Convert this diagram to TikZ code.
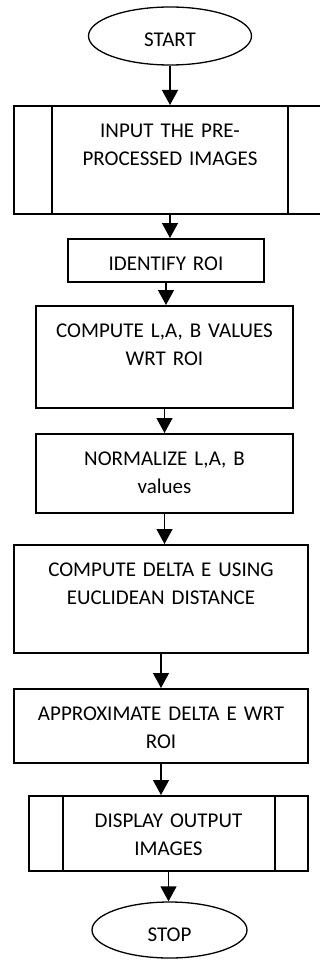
\documentclass[tikz,border=0pt]{standalone}
\usepackage{fontspec}
\setmainfont{Carlito}
\usetikzlibrary{shapes.geometric,arrows.meta}

\begin{document}
\begin{tikzpicture}[x=1pt,y=-1pt,
  font=\fontsize{21}{28}\selectfont,
  term/.style={draw, ellipse, line width=1.3pt, inner sep=0pt,
    text height=22pt, text depth=0pt},
  proc/.style={draw, rectangle, line width=1.6pt, anchor=north, inner sep=0pt,
    align=center, text height=32pt},
  arr/.style={line width=1.3pt, -{Triangle[width=16pt,length=15pt]}}]
  \useasboundingbox (0,0) rectangle (320,960);

  \node[term, minimum width=163pt, minimum height=58pt] (start) at (170,36) {START};

  \node[proc, text width=312pt, text depth=76pt] (input) at (170,105)
    {INPUT THE PRE-\\PROCESSED IMAGES};
  \draw[line width=1.6pt] ([xshift=39pt]input.north west) -- ([xshift=39pt]input.south west);
  \draw[line width=1.6pt] ([xshift=-39pt]input.north east) -- ([xshift=-39pt]input.south east);

  \node[proc, text width=196pt, text depth=11pt] (roi) at (166,238) {IDENTIFY ROI};

  \node[proc, text width=257pt, text depth=70pt] (lab) at (164.5,305)
    {COMPUTE L,A, B VALUES\\WRT ROI};

  \node[proc, text width=257pt, text depth=47pt] (norm) at (164.5,433)
    {NORMALIZE L,A, B\\values};

  \node[proc, text width=294pt, text depth=76pt] (delta) at (161,544)
    {COMPUTE DELTA E USING\\EUCLIDEAN DISTANCE};

  \node[proc, text width=294pt, text depth=42pt] (approx) at (161,688)
    {APPROXIMATE DELTA E WRT\\ROI};

  \node[proc, text width=279pt, text depth=43pt] (disp) at (168.5,795)
    {DISPLAY OUTPUT\\IMAGES};
  \draw[line width=1.6pt] ([xshift=35pt]disp.north west) -- ([xshift=35pt]disp.south west);
  \draw[line width=1.6pt] ([xshift=-34pt]disp.north east) -- ([xshift=-34pt]disp.south east);

  \node[term, minimum width=155pt, minimum height=56pt] (stop) at (169.5,930) {STOP};

  \draw[arr] (start.south) -- (start.south |- input.north);
  \draw[arr] (input.south) -- (input.south |- roi.north);
  \draw[arr] (roi.south) -- (roi.south |- lab.north);
  \draw[arr] (lab.south) -- (lab.south |- norm.north);
  \draw[arr] (norm.south) -- (norm.south |- delta.north);
  \draw[arr] (delta.south) -- (delta.south |- approx.north);
  \draw[arr] (approx.south) -- (approx.south |- disp.north);
  \draw[arr] (disp.south) -- (disp.south |- stop.north);
\end{tikzpicture}
\end{document}
